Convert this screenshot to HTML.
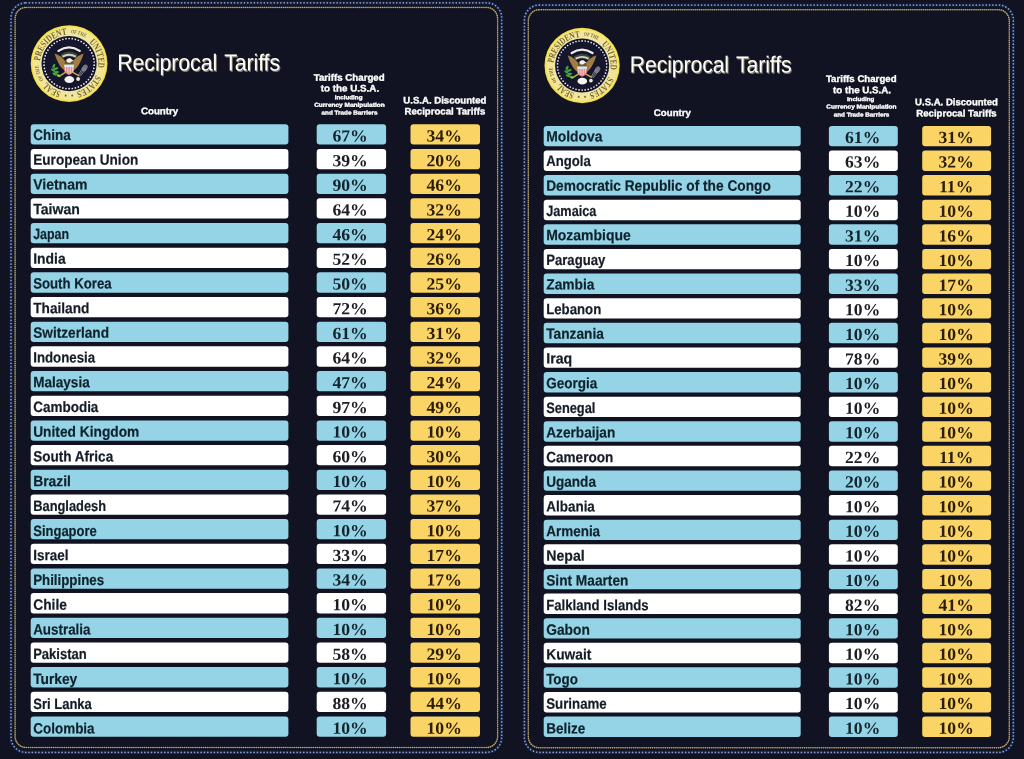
<!DOCTYPE html>
<html lang="en"><head><meta charset="utf-8"><title>Reciprocal Tariffs</title>
<style>
html,body{margin:0;padding:0}
body{width:1024px;height:759px;background:#111322;overflow:hidden}
svg{display:block;filter:blur(.4px)}
text{font-family:"Liberation Sans",sans-serif;white-space:pre}
.bars rect{rx:3px;ry:3px}
.title{font-size:23.3px;letter-spacing:-.1px;word-spacing:1.8px}
.hc,.h1,.h2{fill:#fff;font-weight:bold;stroke:#fff;stroke-width:.35px}
.hc,.h1{font-size:9.6px}
.h2{font-size:5.7px}
.n{font-weight:bold;font-size:15px;fill:#141c26;stroke:#141c26;stroke-width:.2px}
.p{font-family:"Liberation Serif",serif;font-weight:bold;font-size:17px;fill:#1c1c22}
.q{fill:#2b1c06}
.nb{fill:#0f222c;stroke:#0f222c}
.pb{fill:#13242d}
.st text{font-family:"Liberation Serif",serif;font-weight:bold;fill:#78672a}
</style></head><body>
<svg width="1024" height="759" viewBox="0 0 1024 759">
<defs>
<radialGradient id="rg" cx="0" cy="0" r="38.4" gradientUnits="userSpaceOnUse"><stop offset="0.70" stop-color="#f0e5a8"/><stop offset="0.92" stop-color="#f1e692"/><stop offset="0.965" stop-color="#f6e454"/><stop offset="1" stop-color="#e6cf45"/></radialGradient>
<g id="eagle"><path d="M-10.6,-12.7 Q0,-19.7 10.6,-12.7" fill="none" stroke="#f0f0ea" stroke-width="2.3" stroke-linecap="round"/><path d="M-8.5,-9.2 Q0,-15 8.5,-9.2 L7.4,-5 Q0,-9 -7.4,-5 Z" fill="#3f4636"/><path d="M-6.6,-7 Q0,-10.6 6.6,-7" fill="none" stroke="#d2d2c8" stroke-width="2"/><path d="M-3.2,7.5 C-8.5,5 -12,-2 -14.6,-10.2 C-10.5,-9 -6.6,-6.5 -4,-2.5 Z" fill="#a07d44"/><path d="M3.2,7.5 C8.5,5 12,-2 14.6,-10.2 C10.5,-9 6.6,-6.5 4,-2.5 Z" fill="#a07d44"/><ellipse cx="0" cy="0.5" rx="4.6" ry="5.5" fill="#6a5832"/><path d="M-2.6,-2.6 C-3,-5.8 1.8,-6.2 2.8,-4 L4.6,-2.8 L2.4,-2.2 C1.2,-0.4 -1.6,-0.6 -2.6,-2.6Z" fill="#f4f2ec"/><path d="M-4.9,1.2 L4.9,1.2 L4.9,6.2 C4.9,9.4 1.7,10.6 0,11.6 C-1.7,10.6 -4.9,9.4 -4.9,6.2 Z" fill="#e38890"/><path d="M-3.5,3.4 L-3.5,8.5" stroke="#f8e4e2" stroke-width="0.8"/><path d="M-1.2,3.4 L-1.2,9.7" stroke="#f8e4e2" stroke-width="0.8"/><path d="M1.2,3.4 L1.2,9.7" stroke="#f8e4e2" stroke-width="0.8"/><path d="M3.5,3.4 L3.5,8.5" stroke="#f8e4e2" stroke-width="0.8"/><path d="M-4.9,1 L4.9,1 L4.9,3.5 L-4.9,3.5 Z" fill="#d4e8ee"/><path d="M-3.4,8.6 L-9.2,12.2" stroke="#c4aa48" stroke-width="1.5" stroke-linecap="round"/><path d="M3.4,8.6 L9.6,12" stroke="#c4aa48" stroke-width="1.5" stroke-linecap="round"/><path d="M-9,12.2 C-14,11 -16,6 -15.5,1" fill="none" stroke="#3f9a3a" stroke-width="1.3"/><ellipse cx="-15.3" cy="2.5" rx="2.3" ry="1.2" transform="rotate(-60 -15.3 2.5)" fill="#43a53c"/><ellipse cx="-13" cy="5" rx="2.4" ry="1.2" transform="rotate(-20 -13 5)" fill="#43a53c"/><ellipse cx="-16.2" cy="6.5" rx="2.2" ry="1.1" transform="rotate(30 -16.2 6.5)" fill="#43a53c"/><ellipse cx="-12.5" cy="8.6" rx="2.4" ry="1.2" transform="rotate(-10 -12.5 8.6)" fill="#43a53c"/><ellipse cx="-14.5" cy="10.5" rx="2.4" ry="1.2" transform="rotate(25 -14.5 10.5)" fill="#43a53c"/><ellipse cx="-10.5" cy="11.8" rx="2" ry="1.1" transform="rotate(10 -10.5 11.8)" fill="#43a53c"/><ellipse cx="-10.2" cy="12.3" rx="1.8" ry="0.9" fill="#b9c24e"/><path d="M10.2,12 L15.2,4.6 M11.4,12.4 L16.6,5.8 M9.4,11.2 L13.8,4" stroke="#85848f" stroke-width=".9" stroke-linecap="round"/><ellipse cx="15.6" cy="4.4" rx="2.5" ry="3.7" transform="rotate(32 15.6 4.4)" fill="#8c8b97" opacity=".8"/><circle cx="9" cy="15.4" r="1.9" fill="#eceadf"/><ellipse cx="0.2" cy="16" rx="4.9" ry="3.5" fill="#f4f3ee"/></g>
</defs>
<g id="panel1">
<rect x="11" y="2.8" width="490.7" height="749.6" rx="15" ry="15" fill="none" stroke="#13203d" stroke-width="3.2"/>
<rect x="11" y="2.8" width="490.7" height="749.6" rx="15" ry="15" fill="none" stroke="#8598cb" stroke-width="1.75" stroke-dasharray="0.01 3.3" stroke-linecap="round"/>
<rect x="15.1" y="7.4" width="482.5" height="740.1" rx="11" ry="11" fill="none" stroke="#4a4636" stroke-width="1.2"/>
<rect x="15.1" y="7.4" width="482.5" height="740.1" rx="11" ry="11" fill="none" stroke="#b8a674" stroke-width="1.55" stroke-dasharray="0.01 2.1" stroke-linecap="round"/>
<g transform="translate(69.1,63.6) scale(1.0)">
<path id="tp1" fill="none" d="M0,29.1 A29.1,29.1 0 1 1 0,-29.1 A29.1,29.1 0 1 1 0,29.1 A29.1,29.1 0 1 1 0,-29.1"/>
<circle r="38.4" fill="url(#rg)"/>
<circle r="27.6" fill="#15162b"/>
<g fill="#eef0f6"><circle cx="0" cy="-25.1" r=".85"/><circle cx="3.15" cy="-24.9" r=".85"/><circle cx="6.24" cy="-24.31" r=".85"/><circle cx="9.24" cy="-23.34" r=".85"/><circle cx="12.09" cy="-22" r=".85"/><circle cx="14.75" cy="-20.31" r=".85"/><circle cx="17.18" cy="-18.3" r=".85"/><circle cx="19.34" cy="-16" r=".85"/><circle cx="21.19" cy="-13.45" r=".85"/><circle cx="22.71" cy="-10.69" r=".85"/><circle cx="23.87" cy="-7.76" r=".85"/><circle cx="24.66" cy="-4.7" r=".85"/><circle cx="25.05" cy="-1.58" r=".85"/><circle cx="25.05" cy="1.58" r=".85"/><circle cx="24.66" cy="4.7" r=".85"/><circle cx="23.87" cy="7.76" r=".85"/><circle cx="22.71" cy="10.69" r=".85"/><circle cx="21.19" cy="13.45" r=".85"/><circle cx="19.34" cy="16" r=".85"/><circle cx="17.18" cy="18.3" r=".85"/><circle cx="14.75" cy="20.31" r=".85"/><circle cx="12.09" cy="22" r=".85"/><circle cx="9.24" cy="23.34" r=".85"/><circle cx="6.24" cy="24.31" r=".85"/><circle cx="3.15" cy="24.9" r=".85"/><circle cx="0" cy="25.1" r=".85"/><circle cx="-3.15" cy="24.9" r=".85"/><circle cx="-6.24" cy="24.31" r=".85"/><circle cx="-9.24" cy="23.34" r=".85"/><circle cx="-12.09" cy="22" r=".85"/><circle cx="-14.75" cy="20.31" r=".85"/><circle cx="-17.18" cy="18.3" r=".85"/><circle cx="-19.34" cy="16" r=".85"/><circle cx="-21.19" cy="13.45" r=".85"/><circle cx="-22.71" cy="10.69" r=".85"/><circle cx="-23.87" cy="7.76" r=".85"/><circle cx="-24.66" cy="4.7" r=".85"/><circle cx="-25.05" cy="1.58" r=".85"/><circle cx="-25.05" cy="-1.58" r=".85"/><circle cx="-24.66" cy="-4.7" r=".85"/><circle cx="-23.87" cy="-7.76" r=".85"/><circle cx="-22.71" cy="-10.69" r=".85"/><circle cx="-21.19" cy="-13.45" r=".85"/><circle cx="-19.34" cy="-16" r=".85"/><circle cx="-17.18" cy="-18.3" r=".85"/><circle cx="-14.75" cy="-20.31" r=".85"/><circle cx="-12.09" cy="-22" r=".85"/><circle cx="-9.24" cy="-23.34" r=".85"/><circle cx="-6.24" cy="-24.31" r=".85"/><circle cx="-3.15" cy="-24.9" r=".85"/></g>
<g class="st">
<text font-size="9.6" dy="0"><textPath href="#tp1" startOffset="8.13" textLength="17.78" lengthAdjust="spacingAndGlyphs">SEAL</textPath></text>
<text font-size="5.3" dy="-1.5"><textPath href="#tp1" startOffset="28.95" textLength="14.98" lengthAdjust="spacingAndGlyphs">OF THE</textPath></text>
<text font-size="9.6" dy="0"><textPath href="#tp1" startOffset="48.25" textLength="40.89" lengthAdjust="spacingAndGlyphs">PRESIDENT</textPath></text>
<text font-size="5.3" dy="-1.5"><textPath href="#tp1" startOffset="92.94" textLength="14.47" lengthAdjust="spacingAndGlyphs">OF THE</textPath></text>
<text font-size="9.6" dy="0"><textPath href="#tp1" startOffset="113.01" textLength="28.19" lengthAdjust="spacingAndGlyphs">UNITED</textPath></text>
<text font-size="9.6" dy="0"><textPath href="#tp1" startOffset="148.56" textLength="26.66" lengthAdjust="spacingAndGlyphs">STATES</textPath></text>
<text font-size="7.5" dy="-0.6"><textPath href="#tp1" startOffset="178.52" textLength="2.54" lengthAdjust="spacingAndGlyphs">•</textPath></text>
<text font-size="7.5" dy="-0.6"><textPath href="#tp1" startOffset="1.78" textLength="2.54" lengthAdjust="spacingAndGlyphs">•</textPath></text>
</g>
<use href="#eagle"/>
</g>
<defs><text id="tt1" class="title" transform="translate(117.3,70.5) rotate(0.03) scale(0.915,1)">Reciprocal Tariffs</text></defs>
<use href="#tt1" fill="#857f66" transform="translate(1,1.1)"/><use href="#tt1" fill="#fff"/>
<text class="hc" text-anchor="middle" transform="translate(159.6,114.25) rotate(0.03) scale(1.016,1)">Country</text>
<text class="h1" text-anchor="middle" transform="translate(349.2,80.75) rotate(0.03) scale(1.011,1)">Tariffs Charged</text>
<text class="h1" text-anchor="middle" transform="translate(350,91.5) rotate(0.03) scale(1.023,1)">to the U.S.A.</text>
<text class="h2" text-anchor="middle" transform="translate(348.6,99.25) rotate(0.03) scale(1.094,1)">Including</text>
<text class="h2" text-anchor="middle" transform="translate(349.4,106.75) rotate(0.03) scale(1.143,1)">Currency Manipulation</text>
<text class="h2" text-anchor="middle" transform="translate(349.5,114.5) rotate(0.03) scale(1.112,1)">and Trade Barriers</text>
<text class="h1" text-anchor="middle" transform="translate(444.9,103.5) rotate(0.03) scale(1.000,1)">U.S.A. Discounted</text>
<text class="h1" text-anchor="middle" transform="translate(444.85,114.5) rotate(0.03) scale(1.007,1)">Reciprocal Tariffs</text>
<g class="bars"><rect x="30.7" y="124.3" width="257.7" height="20.3" fill="#94d4e6"/>
<rect x="316.7" y="124.3" width="69.4" height="20.3" fill="#94d4e6"/>
<rect x="410.5" y="124.3" width="69.5" height="20.3" fill="#fad565"/>
<rect x="30.7" y="148.97" width="257.7" height="20.3" fill="#fff"/>
<rect x="316.7" y="148.97" width="69.4" height="20.3" fill="#fff"/>
<rect x="410.5" y="148.97" width="69.5" height="20.3" fill="#fad565"/>
<rect x="30.7" y="173.65" width="257.7" height="20.3" fill="#94d4e6"/>
<rect x="316.7" y="173.65" width="69.4" height="20.3" fill="#94d4e6"/>
<rect x="410.5" y="173.65" width="69.5" height="20.3" fill="#fad565"/>
<rect x="30.7" y="198.32" width="257.7" height="20.3" fill="#fff"/>
<rect x="316.7" y="198.32" width="69.4" height="20.3" fill="#fff"/>
<rect x="410.5" y="198.32" width="69.5" height="20.3" fill="#fad565"/>
<rect x="30.7" y="222.99" width="257.7" height="20.3" fill="#94d4e6"/>
<rect x="316.7" y="222.99" width="69.4" height="20.3" fill="#94d4e6"/>
<rect x="410.5" y="222.99" width="69.5" height="20.3" fill="#fad565"/>
<rect x="30.7" y="247.66" width="257.7" height="20.3" fill="#fff"/>
<rect x="316.7" y="247.66" width="69.4" height="20.3" fill="#fff"/>
<rect x="410.5" y="247.66" width="69.5" height="20.3" fill="#fad565"/>
<rect x="30.7" y="272.34" width="257.7" height="20.3" fill="#94d4e6"/>
<rect x="316.7" y="272.34" width="69.4" height="20.3" fill="#94d4e6"/>
<rect x="410.5" y="272.34" width="69.5" height="20.3" fill="#fad565"/>
<rect x="30.7" y="297.01" width="257.7" height="20.3" fill="#fff"/>
<rect x="316.7" y="297.01" width="69.4" height="20.3" fill="#fff"/>
<rect x="410.5" y="297.01" width="69.5" height="20.3" fill="#fad565"/>
<rect x="30.7" y="321.68" width="257.7" height="20.3" fill="#94d4e6"/>
<rect x="316.7" y="321.68" width="69.4" height="20.3" fill="#94d4e6"/>
<rect x="410.5" y="321.68" width="69.5" height="20.3" fill="#fad565"/>
<rect x="30.7" y="346.36" width="257.7" height="20.3" fill="#fff"/>
<rect x="316.7" y="346.36" width="69.4" height="20.3" fill="#fff"/>
<rect x="410.5" y="346.36" width="69.5" height="20.3" fill="#fad565"/>
<rect x="30.7" y="371.03" width="257.7" height="20.3" fill="#94d4e6"/>
<rect x="316.7" y="371.03" width="69.4" height="20.3" fill="#94d4e6"/>
<rect x="410.5" y="371.03" width="69.5" height="20.3" fill="#fad565"/>
<rect x="30.7" y="395.7" width="257.7" height="20.3" fill="#fff"/>
<rect x="316.7" y="395.7" width="69.4" height="20.3" fill="#fff"/>
<rect x="410.5" y="395.7" width="69.5" height="20.3" fill="#fad565"/>
<rect x="30.7" y="420.38" width="257.7" height="20.3" fill="#94d4e6"/>
<rect x="316.7" y="420.38" width="69.4" height="20.3" fill="#94d4e6"/>
<rect x="410.5" y="420.38" width="69.5" height="20.3" fill="#fad565"/>
<rect x="30.7" y="445.05" width="257.7" height="20.3" fill="#fff"/>
<rect x="316.7" y="445.05" width="69.4" height="20.3" fill="#fff"/>
<rect x="410.5" y="445.05" width="69.5" height="20.3" fill="#fad565"/>
<rect x="30.7" y="469.72" width="257.7" height="20.3" fill="#94d4e6"/>
<rect x="316.7" y="469.72" width="69.4" height="20.3" fill="#94d4e6"/>
<rect x="410.5" y="469.72" width="69.5" height="20.3" fill="#fad565"/>
<rect x="30.7" y="494.39" width="257.7" height="20.3" fill="#fff"/>
<rect x="316.7" y="494.39" width="69.4" height="20.3" fill="#fff"/>
<rect x="410.5" y="494.39" width="69.5" height="20.3" fill="#fad565"/>
<rect x="30.7" y="519.07" width="257.7" height="20.3" fill="#94d4e6"/>
<rect x="316.7" y="519.07" width="69.4" height="20.3" fill="#94d4e6"/>
<rect x="410.5" y="519.07" width="69.5" height="20.3" fill="#fad565"/>
<rect x="30.7" y="543.74" width="257.7" height="20.3" fill="#fff"/>
<rect x="316.7" y="543.74" width="69.4" height="20.3" fill="#fff"/>
<rect x="410.5" y="543.74" width="69.5" height="20.3" fill="#fad565"/>
<rect x="30.7" y="568.41" width="257.7" height="20.3" fill="#94d4e6"/>
<rect x="316.7" y="568.41" width="69.4" height="20.3" fill="#94d4e6"/>
<rect x="410.5" y="568.41" width="69.5" height="20.3" fill="#fad565"/>
<rect x="30.7" y="593.09" width="257.7" height="20.3" fill="#fff"/>
<rect x="316.7" y="593.09" width="69.4" height="20.3" fill="#fff"/>
<rect x="410.5" y="593.09" width="69.5" height="20.3" fill="#fad565"/>
<rect x="30.7" y="617.76" width="257.7" height="20.3" fill="#94d4e6"/>
<rect x="316.7" y="617.76" width="69.4" height="20.3" fill="#94d4e6"/>
<rect x="410.5" y="617.76" width="69.5" height="20.3" fill="#fad565"/>
<rect x="30.7" y="642.43" width="257.7" height="20.3" fill="#fff"/>
<rect x="316.7" y="642.43" width="69.4" height="20.3" fill="#fff"/>
<rect x="410.5" y="642.43" width="69.5" height="20.3" fill="#fad565"/>
<rect x="30.7" y="667.11" width="257.7" height="20.3" fill="#94d4e6"/>
<rect x="316.7" y="667.11" width="69.4" height="20.3" fill="#94d4e6"/>
<rect x="410.5" y="667.11" width="69.5" height="20.3" fill="#fad565"/>
<rect x="30.7" y="691.78" width="257.7" height="20.3" fill="#fff"/>
<rect x="316.7" y="691.78" width="69.4" height="20.3" fill="#fff"/>
<rect x="410.5" y="691.78" width="69.5" height="20.3" fill="#fad565"/>
<rect x="30.7" y="716.45" width="257.7" height="20.3" fill="#94d4e6"/>
<rect x="316.7" y="716.45" width="69.4" height="20.3" fill="#94d4e6"/>
<rect x="410.5" y="716.45" width="69.5" height="20.3" fill="#fad565"/></g>
<g class="names"><text class="n nb" transform="translate(33.2,140) rotate(0.03) scale(0.901,1)">China</text>
<text class="n" transform="translate(33.2,164.75) rotate(0.03) scale(0.908,1)">European Union</text>
<text class="n nb" transform="translate(33.2,189.5) rotate(0.03) scale(0.934,1)">Vietnam</text>
<text class="n" transform="translate(33.2,214.25) rotate(0.03) scale(0.938,1)">Taiwan</text>
<text class="n nb" transform="translate(33.2,239) rotate(0.03) scale(0.829,1)">Japan</text>
<text class="n" transform="translate(33.2,263.75) rotate(0.03) scale(0.928,1)">India</text>
<text class="n nb" transform="translate(33.2,288.5) rotate(0.03) scale(0.880,1)">South Korea</text>
<text class="n" transform="translate(33.2,313.25) rotate(0.03) scale(0.912,1)">Thailand</text>
<text class="n nb" transform="translate(33.2,337.75) rotate(0.03) scale(0.911,1)">Switzerland</text>
<text class="n" transform="translate(33.2,362.5) rotate(0.03) scale(0.886,1)">Indonesia</text>
<text class="n nb" transform="translate(33.2,387.25) rotate(0.03) scale(0.904,1)">Malaysia</text>
<text class="n" transform="translate(33.2,412) rotate(0.03) scale(0.900,1)">Cambodia</text>
<text class="n nb" transform="translate(33.2,436.75) rotate(0.03) scale(0.917,1)">United Kingdom</text>
<text class="n" transform="translate(33.2,461.5) rotate(0.03) scale(0.903,1)">South Africa</text>
<text class="n nb" transform="translate(33.2,486.25) rotate(0.03) scale(0.924,1)">Brazil</text>
<text class="n" transform="translate(33.2,511) rotate(0.03) scale(0.858,1)">Bangladesh</text>
<text class="n nb" transform="translate(33.2,535.5) rotate(0.03) scale(0.868,1)">Singapore</text>
<text class="n" transform="translate(33.2,560.25) rotate(0.03) scale(0.899,1)">Israel</text>
<text class="n nb" transform="translate(33.2,585) rotate(0.03) scale(0.887,1)">Philippines</text>
<text class="n" transform="translate(33.2,609.75) rotate(0.03) scale(0.921,1)">Chile</text>
<text class="n nb" transform="translate(33.2,634.5) rotate(0.03) scale(0.893,1)">Australia</text>
<text class="n" transform="translate(33.2,659.25) rotate(0.03) scale(0.867,1)">Pakistan</text>
<text class="n nb" transform="translate(33.2,684) rotate(0.03) scale(0.918,1)">Turkey</text>
<text class="n" transform="translate(33.2,708.75) rotate(0.03) scale(0.869,1)">Sri Lanka</text>
<text class="n nb" transform="translate(33.2,733.5) rotate(0.03) scale(0.900,1)">Colombia</text></g>
<g class="nums"><text class="p pb" text-anchor="middle" transform="translate(350.1,141.5) rotate(0.03) scale(1.040,1)">67%</text>
<text class="p q" text-anchor="middle" transform="translate(444.15,141.5) rotate(0.03) scale(1.040,1)">34%</text>
<text class="p" text-anchor="middle" transform="translate(350.1,166.25) rotate(0.03) scale(1.040,1)">39%</text>
<text class="p q" text-anchor="middle" transform="translate(444.15,166.25) rotate(0.03) scale(1.040,1)">20%</text>
<text class="p pb" text-anchor="middle" transform="translate(350.1,190.75) rotate(0.03) scale(1.040,1)">90%</text>
<text class="p q" text-anchor="middle" transform="translate(444.15,190.75) rotate(0.03) scale(1.040,1)">46%</text>
<text class="p" text-anchor="middle" transform="translate(350.1,215.5) rotate(0.03) scale(1.040,1)">64%</text>
<text class="p q" text-anchor="middle" transform="translate(444.15,215.5) rotate(0.03) scale(1.040,1)">32%</text>
<text class="p pb" text-anchor="middle" transform="translate(350.1,240.25) rotate(0.03) scale(1.040,1)">46%</text>
<text class="p q" text-anchor="middle" transform="translate(444.15,240.25) rotate(0.03) scale(1.040,1)">24%</text>
<text class="p" text-anchor="middle" transform="translate(350.1,264.75) rotate(0.03) scale(1.040,1)">52%</text>
<text class="p q" text-anchor="middle" transform="translate(444.15,264.75) rotate(0.03) scale(1.040,1)">26%</text>
<text class="p pb" text-anchor="middle" transform="translate(350.1,289.5) rotate(0.03) scale(1.040,1)">50%</text>
<text class="p q" text-anchor="middle" transform="translate(444.15,289.5) rotate(0.03) scale(1.040,1)">25%</text>
<text class="p" text-anchor="middle" transform="translate(350.1,314.25) rotate(0.03) scale(1.040,1)">72%</text>
<text class="p q" text-anchor="middle" transform="translate(444.15,314.25) rotate(0.03) scale(1.040,1)">36%</text>
<text class="p pb" text-anchor="middle" transform="translate(350.1,339) rotate(0.03) scale(1.040,1)">61%</text>
<text class="p q" text-anchor="middle" transform="translate(444.15,339) rotate(0.03) scale(1.040,1)">31%</text>
<text class="p" text-anchor="middle" transform="translate(350.1,363.5) rotate(0.03) scale(1.040,1)">64%</text>
<text class="p q" text-anchor="middle" transform="translate(444.15,363.5) rotate(0.03) scale(1.040,1)">32%</text>
<text class="p pb" text-anchor="middle" transform="translate(350.1,388.25) rotate(0.03) scale(1.040,1)">47%</text>
<text class="p q" text-anchor="middle" transform="translate(444.15,388.25) rotate(0.03) scale(1.040,1)">24%</text>
<text class="p" text-anchor="middle" transform="translate(350.1,413) rotate(0.03) scale(1.040,1)">97%</text>
<text class="p q" text-anchor="middle" transform="translate(444.15,413) rotate(0.03) scale(1.040,1)">49%</text>
<text class="p pb" text-anchor="middle" transform="translate(350.1,437.5) rotate(0.03) scale(1.040,1)">10%</text>
<text class="p q" text-anchor="middle" transform="translate(444.15,437.5) rotate(0.03) scale(1.040,1)">10%</text>
<text class="p" text-anchor="middle" transform="translate(350.1,462.25) rotate(0.03) scale(1.040,1)">60%</text>
<text class="p q" text-anchor="middle" transform="translate(444.15,462.25) rotate(0.03) scale(1.040,1)">30%</text>
<text class="p pb" text-anchor="middle" transform="translate(350.1,487) rotate(0.03) scale(1.040,1)">10%</text>
<text class="p q" text-anchor="middle" transform="translate(444.15,487) rotate(0.03) scale(1.040,1)">10%</text>
<text class="p" text-anchor="middle" transform="translate(350.1,511.5) rotate(0.03) scale(1.040,1)">74%</text>
<text class="p q" text-anchor="middle" transform="translate(444.15,511.5) rotate(0.03) scale(1.040,1)">37%</text>
<text class="p pb" text-anchor="middle" transform="translate(350.1,536.25) rotate(0.03) scale(1.040,1)">10%</text>
<text class="p q" text-anchor="middle" transform="translate(444.15,536.25) rotate(0.03) scale(1.040,1)">10%</text>
<text class="p" text-anchor="middle" transform="translate(350.1,561) rotate(0.03) scale(1.040,1)">33%</text>
<text class="p q" text-anchor="middle" transform="translate(444.15,561) rotate(0.03) scale(1.040,1)">17%</text>
<text class="p pb" text-anchor="middle" transform="translate(350.1,585.5) rotate(0.03) scale(1.040,1)">34%</text>
<text class="p q" text-anchor="middle" transform="translate(444.15,585.5) rotate(0.03) scale(1.040,1)">17%</text>
<text class="p" text-anchor="middle" transform="translate(350.1,610.25) rotate(0.03) scale(1.040,1)">10%</text>
<text class="p q" text-anchor="middle" transform="translate(444.15,610.25) rotate(0.03) scale(1.040,1)">10%</text>
<text class="p pb" text-anchor="middle" transform="translate(350.1,635) rotate(0.03) scale(1.040,1)">10%</text>
<text class="p q" text-anchor="middle" transform="translate(444.15,635) rotate(0.03) scale(1.040,1)">10%</text>
<text class="p" text-anchor="middle" transform="translate(350.1,659.75) rotate(0.03) scale(1.040,1)">58%</text>
<text class="p q" text-anchor="middle" transform="translate(444.15,659.75) rotate(0.03) scale(1.040,1)">29%</text>
<text class="p pb" text-anchor="middle" transform="translate(350.1,684.25) rotate(0.03) scale(1.040,1)">10%</text>
<text class="p q" text-anchor="middle" transform="translate(444.15,684.25) rotate(0.03) scale(1.040,1)">10%</text>
<text class="p" text-anchor="middle" transform="translate(350.1,709) rotate(0.03) scale(1.040,1)">88%</text>
<text class="p q" text-anchor="middle" transform="translate(444.15,709) rotate(0.03) scale(1.040,1)">44%</text>
<text class="p pb" text-anchor="middle" transform="translate(350.1,733.75) rotate(0.03) scale(1.040,1)">10%</text>
<text class="p q" text-anchor="middle" transform="translate(444.15,733.75) rotate(0.03) scale(1.040,1)">10%</text></g>
</g>
<g id="panel2">
<rect x="524.4" y="5" width="488.9" height="747.4" rx="15" ry="15" fill="none" stroke="#13203d" stroke-width="3.2"/>
<rect x="524.4" y="5" width="488.9" height="747.4" rx="15" ry="15" fill="none" stroke="#8598cb" stroke-width="1.75" stroke-dasharray="0.01 3.3" stroke-linecap="round"/>
<rect x="528.3" y="9.7" width="481" height="738.05" rx="11" ry="11" fill="none" stroke="#4a4636" stroke-width="1.2"/>
<rect x="528.3" y="9.7" width="481" height="738.05" rx="11" ry="11" fill="none" stroke="#b8a674" stroke-width="1.55" stroke-dasharray="0.01 2.1" stroke-linecap="round"/>
<g transform="translate(582.1,65.5) scale(0.98)">
<path id="tp2" fill="none" d="M0,29.1 A29.1,29.1 0 1 1 0,-29.1 A29.1,29.1 0 1 1 0,29.1 A29.1,29.1 0 1 1 0,-29.1"/>
<circle r="38.4" fill="url(#rg)"/>
<circle r="27.6" fill="#15162b"/>
<g fill="#eef0f6"><circle cx="0" cy="-25.1" r=".85"/><circle cx="3.15" cy="-24.9" r=".85"/><circle cx="6.24" cy="-24.31" r=".85"/><circle cx="9.24" cy="-23.34" r=".85"/><circle cx="12.09" cy="-22" r=".85"/><circle cx="14.75" cy="-20.31" r=".85"/><circle cx="17.18" cy="-18.3" r=".85"/><circle cx="19.34" cy="-16" r=".85"/><circle cx="21.19" cy="-13.45" r=".85"/><circle cx="22.71" cy="-10.69" r=".85"/><circle cx="23.87" cy="-7.76" r=".85"/><circle cx="24.66" cy="-4.7" r=".85"/><circle cx="25.05" cy="-1.58" r=".85"/><circle cx="25.05" cy="1.58" r=".85"/><circle cx="24.66" cy="4.7" r=".85"/><circle cx="23.87" cy="7.76" r=".85"/><circle cx="22.71" cy="10.69" r=".85"/><circle cx="21.19" cy="13.45" r=".85"/><circle cx="19.34" cy="16" r=".85"/><circle cx="17.18" cy="18.3" r=".85"/><circle cx="14.75" cy="20.31" r=".85"/><circle cx="12.09" cy="22" r=".85"/><circle cx="9.24" cy="23.34" r=".85"/><circle cx="6.24" cy="24.31" r=".85"/><circle cx="3.15" cy="24.9" r=".85"/><circle cx="0" cy="25.1" r=".85"/><circle cx="-3.15" cy="24.9" r=".85"/><circle cx="-6.24" cy="24.31" r=".85"/><circle cx="-9.24" cy="23.34" r=".85"/><circle cx="-12.09" cy="22" r=".85"/><circle cx="-14.75" cy="20.31" r=".85"/><circle cx="-17.18" cy="18.3" r=".85"/><circle cx="-19.34" cy="16" r=".85"/><circle cx="-21.19" cy="13.45" r=".85"/><circle cx="-22.71" cy="10.69" r=".85"/><circle cx="-23.87" cy="7.76" r=".85"/><circle cx="-24.66" cy="4.7" r=".85"/><circle cx="-25.05" cy="1.58" r=".85"/><circle cx="-25.05" cy="-1.58" r=".85"/><circle cx="-24.66" cy="-4.7" r=".85"/><circle cx="-23.87" cy="-7.76" r=".85"/><circle cx="-22.71" cy="-10.69" r=".85"/><circle cx="-21.19" cy="-13.45" r=".85"/><circle cx="-19.34" cy="-16" r=".85"/><circle cx="-17.18" cy="-18.3" r=".85"/><circle cx="-14.75" cy="-20.31" r=".85"/><circle cx="-12.09" cy="-22" r=".85"/><circle cx="-9.24" cy="-23.34" r=".85"/><circle cx="-6.24" cy="-24.31" r=".85"/><circle cx="-3.15" cy="-24.9" r=".85"/></g>
<g class="st">
<text font-size="9.6" dy="0"><textPath href="#tp2" startOffset="8.13" textLength="17.78" lengthAdjust="spacingAndGlyphs">SEAL</textPath></text>
<text font-size="5.3" dy="-1.5"><textPath href="#tp2" startOffset="28.95" textLength="14.98" lengthAdjust="spacingAndGlyphs">OF THE</textPath></text>
<text font-size="9.6" dy="0"><textPath href="#tp2" startOffset="48.25" textLength="40.89" lengthAdjust="spacingAndGlyphs">PRESIDENT</textPath></text>
<text font-size="5.3" dy="-1.5"><textPath href="#tp2" startOffset="92.94" textLength="14.47" lengthAdjust="spacingAndGlyphs">OF THE</textPath></text>
<text font-size="9.6" dy="0"><textPath href="#tp2" startOffset="113.01" textLength="28.19" lengthAdjust="spacingAndGlyphs">UNITED</textPath></text>
<text font-size="9.6" dy="0"><textPath href="#tp2" startOffset="148.56" textLength="26.66" lengthAdjust="spacingAndGlyphs">STATES</textPath></text>
<text font-size="7.5" dy="-0.6"><textPath href="#tp2" startOffset="178.52" textLength="2.54" lengthAdjust="spacingAndGlyphs">•</textPath></text>
<text font-size="7.5" dy="-0.6"><textPath href="#tp2" startOffset="1.78" textLength="2.54" lengthAdjust="spacingAndGlyphs">•</textPath></text>
</g>
<use href="#eagle"/>
</g>
<defs><text id="tt2" class="title" transform="translate(629.7,72.5) rotate(0.03) scale(0.911,1)">Reciprocal Tariffs</text></defs>
<use href="#tt2" fill="#857f66" transform="translate(1,1.1)"/><use href="#tt2" fill="#fff"/>
<text class="hc" text-anchor="middle" transform="translate(672.38,116) rotate(0.03) scale(1.012,1)">Country</text>
<text class="h1" text-anchor="middle" transform="translate(861.22,82) rotate(0.03) scale(1.007,1)">Tariffs Charged</text>
<text class="h1" text-anchor="middle" transform="translate(862.02,93.25) rotate(0.03) scale(1.019,1)">to the U.S.A.</text>
<text class="h2" text-anchor="middle" transform="translate(860.63,101) rotate(0.03) scale(1.089,1)">Including</text>
<text class="h2" text-anchor="middle" transform="translate(861.42,108.5) rotate(0.03) scale(1.139,1)">Currency Manipulation</text>
<text class="h2" text-anchor="middle" transform="translate(861.52,116.5) rotate(0.03) scale(1.107,1)">and Trade Barriers</text>
<text class="h1" text-anchor="middle" transform="translate(956.54,105.25) rotate(0.03) scale(0.996,1)">U.S.A. Discounted</text>
<text class="h1" text-anchor="middle" transform="translate(956.49,116.5) rotate(0.03) scale(1.002,1)">Reciprocal Tariffs</text>
<g class="bars"><rect x="543.7" y="125.9" width="257" height="20.4" fill="#94d4e6"/>
<rect x="828.9" y="125.9" width="68.9" height="20.4" fill="#94d4e6"/>
<rect x="922.2" y="125.9" width="68.9" height="20.4" fill="#fad565"/>
<rect x="543.7" y="150.51" width="257" height="20.4" fill="#fff"/>
<rect x="828.9" y="150.51" width="68.9" height="20.4" fill="#fff"/>
<rect x="922.2" y="150.51" width="68.9" height="20.4" fill="#fad565"/>
<rect x="543.7" y="175.12" width="257" height="20.4" fill="#94d4e6"/>
<rect x="828.9" y="175.12" width="68.9" height="20.4" fill="#94d4e6"/>
<rect x="922.2" y="175.12" width="68.9" height="20.4" fill="#fad565"/>
<rect x="543.7" y="199.74" width="257" height="20.4" fill="#fff"/>
<rect x="828.9" y="199.74" width="68.9" height="20.4" fill="#fff"/>
<rect x="922.2" y="199.74" width="68.9" height="20.4" fill="#fad565"/>
<rect x="543.7" y="224.35" width="257" height="20.4" fill="#94d4e6"/>
<rect x="828.9" y="224.35" width="68.9" height="20.4" fill="#94d4e6"/>
<rect x="922.2" y="224.35" width="68.9" height="20.4" fill="#fad565"/>
<rect x="543.7" y="248.96" width="257" height="20.4" fill="#fff"/>
<rect x="828.9" y="248.96" width="68.9" height="20.4" fill="#fff"/>
<rect x="922.2" y="248.96" width="68.9" height="20.4" fill="#fad565"/>
<rect x="543.7" y="273.57" width="257" height="20.4" fill="#94d4e6"/>
<rect x="828.9" y="273.57" width="68.9" height="20.4" fill="#94d4e6"/>
<rect x="922.2" y="273.57" width="68.9" height="20.4" fill="#fad565"/>
<rect x="543.7" y="298.18" width="257" height="20.4" fill="#fff"/>
<rect x="828.9" y="298.18" width="68.9" height="20.4" fill="#fff"/>
<rect x="922.2" y="298.18" width="68.9" height="20.4" fill="#fad565"/>
<rect x="543.7" y="322.8" width="257" height="20.4" fill="#94d4e6"/>
<rect x="828.9" y="322.8" width="68.9" height="20.4" fill="#94d4e6"/>
<rect x="922.2" y="322.8" width="68.9" height="20.4" fill="#fad565"/>
<rect x="543.7" y="347.41" width="257" height="20.4" fill="#fff"/>
<rect x="828.9" y="347.41" width="68.9" height="20.4" fill="#fff"/>
<rect x="922.2" y="347.41" width="68.9" height="20.4" fill="#fad565"/>
<rect x="543.7" y="372.02" width="257" height="20.4" fill="#94d4e6"/>
<rect x="828.9" y="372.02" width="68.9" height="20.4" fill="#94d4e6"/>
<rect x="922.2" y="372.02" width="68.9" height="20.4" fill="#fad565"/>
<rect x="543.7" y="396.63" width="257" height="20.4" fill="#fff"/>
<rect x="828.9" y="396.63" width="68.9" height="20.4" fill="#fff"/>
<rect x="922.2" y="396.63" width="68.9" height="20.4" fill="#fad565"/>
<rect x="543.7" y="421.24" width="257" height="20.4" fill="#94d4e6"/>
<rect x="828.9" y="421.24" width="68.9" height="20.4" fill="#94d4e6"/>
<rect x="922.2" y="421.24" width="68.9" height="20.4" fill="#fad565"/>
<rect x="543.7" y="445.86" width="257" height="20.4" fill="#fff"/>
<rect x="828.9" y="445.86" width="68.9" height="20.4" fill="#fff"/>
<rect x="922.2" y="445.86" width="68.9" height="20.4" fill="#fad565"/>
<rect x="543.7" y="470.47" width="257" height="20.4" fill="#94d4e6"/>
<rect x="828.9" y="470.47" width="68.9" height="20.4" fill="#94d4e6"/>
<rect x="922.2" y="470.47" width="68.9" height="20.4" fill="#fad565"/>
<rect x="543.7" y="495.08" width="257" height="20.4" fill="#fff"/>
<rect x="828.9" y="495.08" width="68.9" height="20.4" fill="#fff"/>
<rect x="922.2" y="495.08" width="68.9" height="20.4" fill="#fad565"/>
<rect x="543.7" y="519.69" width="257" height="20.4" fill="#94d4e6"/>
<rect x="828.9" y="519.69" width="68.9" height="20.4" fill="#94d4e6"/>
<rect x="922.2" y="519.69" width="68.9" height="20.4" fill="#fad565"/>
<rect x="543.7" y="544.3" width="257" height="20.4" fill="#fff"/>
<rect x="828.9" y="544.3" width="68.9" height="20.4" fill="#fff"/>
<rect x="922.2" y="544.3" width="68.9" height="20.4" fill="#fad565"/>
<rect x="543.7" y="568.92" width="257" height="20.4" fill="#94d4e6"/>
<rect x="828.9" y="568.92" width="68.9" height="20.4" fill="#94d4e6"/>
<rect x="922.2" y="568.92" width="68.9" height="20.4" fill="#fad565"/>
<rect x="543.7" y="593.53" width="257" height="20.4" fill="#fff"/>
<rect x="828.9" y="593.53" width="68.9" height="20.4" fill="#fff"/>
<rect x="922.2" y="593.53" width="68.9" height="20.4" fill="#fad565"/>
<rect x="543.7" y="618.14" width="257" height="20.4" fill="#94d4e6"/>
<rect x="828.9" y="618.14" width="68.9" height="20.4" fill="#94d4e6"/>
<rect x="922.2" y="618.14" width="68.9" height="20.4" fill="#fad565"/>
<rect x="543.7" y="642.75" width="257" height="20.4" fill="#fff"/>
<rect x="828.9" y="642.75" width="68.9" height="20.4" fill="#fff"/>
<rect x="922.2" y="642.75" width="68.9" height="20.4" fill="#fad565"/>
<rect x="543.7" y="667.36" width="257" height="20.4" fill="#94d4e6"/>
<rect x="828.9" y="667.36" width="68.9" height="20.4" fill="#94d4e6"/>
<rect x="922.2" y="667.36" width="68.9" height="20.4" fill="#fad565"/>
<rect x="543.7" y="691.98" width="257" height="20.4" fill="#fff"/>
<rect x="828.9" y="691.98" width="68.9" height="20.4" fill="#fff"/>
<rect x="922.2" y="691.98" width="68.9" height="20.4" fill="#fad565"/>
<rect x="543.7" y="716.59" width="257" height="20.4" fill="#94d4e6"/>
<rect x="828.9" y="716.59" width="68.9" height="20.4" fill="#94d4e6"/>
<rect x="922.2" y="716.59" width="68.9" height="20.4" fill="#fad565"/></g>
<g class="names"><text class="n nb" transform="translate(546.2,141.5) rotate(0.03) scale(0.925,1)">Moldova</text>
<text class="n" transform="translate(546.2,166.25) rotate(0.03) scale(0.876,1)">Angola</text>
<text class="n nb" transform="translate(546.2,190.75) rotate(0.03) scale(0.914,1)">Democratic Republic of the Congo</text>
<text class="n" transform="translate(546.2,215.5) rotate(0.03) scale(0.849,1)">Jamaica</text>
<text class="n nb" transform="translate(546.2,240.25) rotate(0.03) scale(0.932,1)">Mozambique</text>
<text class="n" transform="translate(546.2,264.75) rotate(0.03) scale(0.875,1)">Paraguay</text>
<text class="n nb" transform="translate(546.2,289.5) rotate(0.03) scale(0.920,1)">Zambia</text>
<text class="n" transform="translate(546.2,314.25) rotate(0.03) scale(0.882,1)">Lebanon</text>
<text class="n nb" transform="translate(546.2,338.75) rotate(0.03) scale(0.915,1)">Tanzania</text>
<text class="n" transform="translate(546.2,363.5) rotate(0.03) scale(0.945,1)">Iraq</text>
<text class="n nb" transform="translate(546.2,388.25) rotate(0.03) scale(0.901,1)">Georgia</text>
<text class="n" transform="translate(546.2,412.75) rotate(0.03) scale(0.856,1)">Senegal</text>
<text class="n nb" transform="translate(546.2,437.5) rotate(0.03) scale(0.912,1)">Azerbaijan</text>
<text class="n" transform="translate(546.2,462.25) rotate(0.03) scale(0.905,1)">Cameroon</text>
<text class="n nb" transform="translate(546.2,486.75) rotate(0.03) scale(0.905,1)">Uganda</text>
<text class="n" transform="translate(546.2,511.5) rotate(0.03) scale(0.899,1)">Albania</text>
<text class="n nb" transform="translate(546.2,536.25) rotate(0.03) scale(0.899,1)">Armenia</text>
<text class="n" transform="translate(546.2,560.75) rotate(0.03) scale(0.942,1)">Nepal</text>
<text class="n nb" transform="translate(546.2,585.5) rotate(0.03) scale(0.913,1)">Sint Maarten</text>
<text class="n" transform="translate(546.2,610.25) rotate(0.03) scale(0.878,1)">Falkland Islands</text>
<text class="n nb" transform="translate(546.2,634.75) rotate(0.03) scale(0.919,1)">Gabon</text>
<text class="n" transform="translate(546.2,659.5) rotate(0.03) scale(0.919,1)">Kuwait</text>
<text class="n nb" transform="translate(546.2,684.25) rotate(0.03) scale(0.892,1)">Togo</text>
<text class="n" transform="translate(546.2,708.75) rotate(0.03) scale(0.887,1)">Suriname</text>
<text class="n nb" transform="translate(546.2,733.5) rotate(0.03) scale(0.904,1)">Belize</text></g>
<g class="nums"><text class="p pb" text-anchor="middle" transform="translate(862.65,143) rotate(0.03) scale(1.036,1)">61%</text>
<text class="p q" text-anchor="middle" transform="translate(956.15,143) rotate(0.03) scale(1.036,1)">31%</text>
<text class="p" text-anchor="middle" transform="translate(862.65,167.5) rotate(0.03) scale(1.036,1)">63%</text>
<text class="p q" text-anchor="middle" transform="translate(956.15,167.5) rotate(0.03) scale(1.036,1)">32%</text>
<text class="p pb" text-anchor="middle" transform="translate(862.65,192.25) rotate(0.03) scale(1.036,1)">22%</text>
<text class="p q" text-anchor="middle" transform="translate(956.15,192.25) rotate(0.03) scale(1.036,1)">11%</text>
<text class="p" text-anchor="middle" transform="translate(862.65,216.75) rotate(0.03) scale(1.036,1)">10%</text>
<text class="p q" text-anchor="middle" transform="translate(956.15,216.75) rotate(0.03) scale(1.036,1)">10%</text>
<text class="p pb" text-anchor="middle" transform="translate(862.65,241.5) rotate(0.03) scale(1.036,1)">31%</text>
<text class="p q" text-anchor="middle" transform="translate(956.15,241.5) rotate(0.03) scale(1.036,1)">16%</text>
<text class="p" text-anchor="middle" transform="translate(862.65,266) rotate(0.03) scale(1.036,1)">10%</text>
<text class="p q" text-anchor="middle" transform="translate(956.15,266) rotate(0.03) scale(1.036,1)">10%</text>
<text class="p pb" text-anchor="middle" transform="translate(862.65,290.75) rotate(0.03) scale(1.036,1)">33%</text>
<text class="p q" text-anchor="middle" transform="translate(956.15,290.75) rotate(0.03) scale(1.036,1)">17%</text>
<text class="p" text-anchor="middle" transform="translate(862.65,315.25) rotate(0.03) scale(1.036,1)">10%</text>
<text class="p q" text-anchor="middle" transform="translate(956.15,315.25) rotate(0.03) scale(1.036,1)">10%</text>
<text class="p pb" text-anchor="middle" transform="translate(862.65,340) rotate(0.03) scale(1.036,1)">10%</text>
<text class="p q" text-anchor="middle" transform="translate(956.15,340) rotate(0.03) scale(1.036,1)">10%</text>
<text class="p" text-anchor="middle" transform="translate(862.65,364.5) rotate(0.03) scale(1.036,1)">78%</text>
<text class="p q" text-anchor="middle" transform="translate(956.15,364.5) rotate(0.03) scale(1.036,1)">39%</text>
<text class="p pb" text-anchor="middle" transform="translate(862.65,389) rotate(0.03) scale(1.036,1)">10%</text>
<text class="p q" text-anchor="middle" transform="translate(956.15,389) rotate(0.03) scale(1.036,1)">10%</text>
<text class="p" text-anchor="middle" transform="translate(862.65,413.75) rotate(0.03) scale(1.036,1)">10%</text>
<text class="p q" text-anchor="middle" transform="translate(956.15,413.75) rotate(0.03) scale(1.036,1)">10%</text>
<text class="p pb" text-anchor="middle" transform="translate(862.65,438.25) rotate(0.03) scale(1.036,1)">10%</text>
<text class="p q" text-anchor="middle" transform="translate(956.15,438.25) rotate(0.03) scale(1.036,1)">10%</text>
<text class="p" text-anchor="middle" transform="translate(862.65,463) rotate(0.03) scale(1.036,1)">22%</text>
<text class="p q" text-anchor="middle" transform="translate(956.15,463) rotate(0.03) scale(1.036,1)">11%</text>
<text class="p pb" text-anchor="middle" transform="translate(862.65,487.5) rotate(0.03) scale(1.036,1)">20%</text>
<text class="p q" text-anchor="middle" transform="translate(956.15,487.5) rotate(0.03) scale(1.036,1)">10%</text>
<text class="p" text-anchor="middle" transform="translate(862.65,512.25) rotate(0.03) scale(1.036,1)">10%</text>
<text class="p q" text-anchor="middle" transform="translate(956.15,512.25) rotate(0.03) scale(1.036,1)">10%</text>
<text class="p pb" text-anchor="middle" transform="translate(862.65,536.75) rotate(0.03) scale(1.036,1)">10%</text>
<text class="p q" text-anchor="middle" transform="translate(956.15,536.75) rotate(0.03) scale(1.036,1)">10%</text>
<text class="p" text-anchor="middle" transform="translate(862.65,561.5) rotate(0.03) scale(1.036,1)">10%</text>
<text class="p q" text-anchor="middle" transform="translate(956.15,561.5) rotate(0.03) scale(1.036,1)">10%</text>
<text class="p pb" text-anchor="middle" transform="translate(862.65,586) rotate(0.03) scale(1.036,1)">10%</text>
<text class="p q" text-anchor="middle" transform="translate(956.15,586) rotate(0.03) scale(1.036,1)">10%</text>
<text class="p" text-anchor="middle" transform="translate(862.65,610.75) rotate(0.03) scale(1.036,1)">82%</text>
<text class="p q" text-anchor="middle" transform="translate(956.15,610.75) rotate(0.03) scale(1.036,1)">41%</text>
<text class="p pb" text-anchor="middle" transform="translate(862.65,635.25) rotate(0.03) scale(1.036,1)">10%</text>
<text class="p q" text-anchor="middle" transform="translate(956.15,635.25) rotate(0.03) scale(1.036,1)">10%</text>
<text class="p" text-anchor="middle" transform="translate(862.65,659.75) rotate(0.03) scale(1.036,1)">10%</text>
<text class="p q" text-anchor="middle" transform="translate(956.15,659.75) rotate(0.03) scale(1.036,1)">10%</text>
<text class="p pb" text-anchor="middle" transform="translate(862.65,684.5) rotate(0.03) scale(1.036,1)">10%</text>
<text class="p q" text-anchor="middle" transform="translate(956.15,684.5) rotate(0.03) scale(1.036,1)">10%</text>
<text class="p" text-anchor="middle" transform="translate(862.65,709) rotate(0.03) scale(1.036,1)">10%</text>
<text class="p q" text-anchor="middle" transform="translate(956.15,709) rotate(0.03) scale(1.036,1)">10%</text>
<text class="p pb" text-anchor="middle" transform="translate(862.65,733.75) rotate(0.03) scale(1.036,1)">10%</text>
<text class="p q" text-anchor="middle" transform="translate(956.15,733.75) rotate(0.03) scale(1.036,1)">10%</text></g>
</g>
</svg>
</body></html>
